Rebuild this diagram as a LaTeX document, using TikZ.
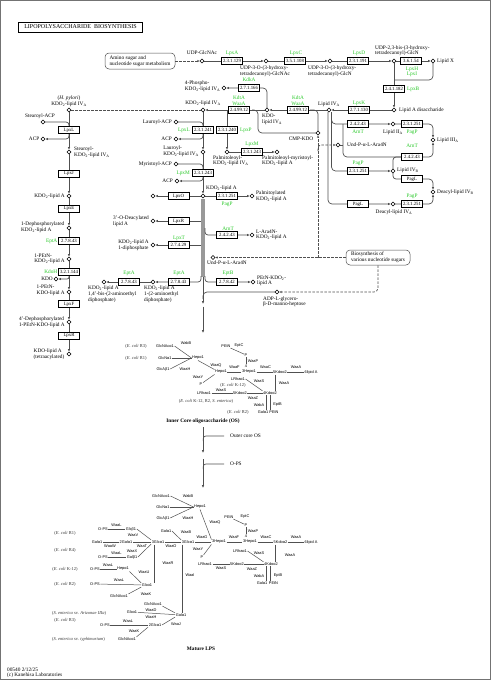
\documentclass[tikz,border=0pt]{standalone}
\usepackage{fontspec}
\setmainfont{Liberation Serif}
\newfontfamily\sansfam{Liberation Sans}
\usetikzlibrary{arrows.meta}
\definecolor{kgreen}{RGB}{40,200,40}
\definecolor{lc}{RGB}{80,80,80}
\newcommand\cpdfont{\fontsize{5.3}{5.6}\selectfont}
\newcommand\ecfont{\fontsize{4.8}{5}\selectfont}
\newcommand\sugfont{\sansfam\fontsize{3.9}{4.2}\selectfont}
\newcommand\notefont{\fontsize{4.5}{5}\selectfont}
\newcommand\kdotwo{KDO\textsubscript{2}}
\newcommand\subA{\textsubscript{A}}
\newcommand\subB{\textsubscript{B}}
\pgfdeclarelayer{bg}
\pgfsetlayers{bg,main}
\tikzset{
 ln/.style={draw=lc, line width=0.7pt},
 ar/.style={ln, -{Latex[length=2.8pt,width=2.4pt]}},
 dsh/.style={draw=lc, line width=0.7pt, dash pattern=on 2.5pt off 1.5pt},
 dshar/.style={dsh, -{Latex[open,length=2.4pt,width=2.4pt]}},
 ec/.style={draw=black, line width=0.5pt, fill=white, minimum width=21pt, minimum height=7pt, inner sep=0pt, font=\ecfont},
 cpd/.style={circle, draw=black, line width=0.55pt, fill=white, minimum size=3.8pt, inner sep=0pt},
 lbl/.style={font=\cpdfont, inner sep=0pt, align=left},
 gn/.style={font=\cpdfont, text=kgreen, inner sep=0pt, align=center},
 sug/.style={font=\sugfont, inner sep=0.5pt},
 sl/.style={draw=lc, line width=0.5pt},
 note/.style={font=\notefont, text=black!80, inner sep=0pt},
 mapbox/.style={draw=black!70, rounded corners=4pt, line width=0.5pt, align=left, font=\cpdfont, inner sep=1.5pt},
 hd/.style={font=\bfseries\fontsize{5.3}{5.5}\selectfont, inner sep=0pt}
}
\begin{document}
\begin{tikzpicture}[x=1pt,y=-1pt]
\useasboundingbox (0,0) rectangle (491,680);
\draw[black!55, line width=0.7pt] (0.8,0.8) rectangle (490.2,679.2);
\node[draw=black, line width=0.9pt, minimum width=124pt, minimum height=10pt, inner sep=0pt, font=\fontsize{6}{6}\selectfont] (title) at (80.5,27) {LIPOPOLYSACCHARIDE\hspace{3pt}BIOSYNTHESIS};

% ---------- top row
\node[mapbox, minimum width=70pt, minimum height=16pt] (amino) at (140,61) {Amino sugar and\\nucleotide sugar metabolism};
\node[cpd] (c1) at (202,61) {};
\node[lbl] (t1) at (202,53) {UDP-GlcNAc};
\node[ec] (e1) at (232,61) {2.3.1.129};
\node[gn] (g1) at (232,53) {LpxA};
\node[cpd] (c2) at (266,61) {};
\node[lbl, anchor=north west] (t2) at (240,66) {UDP-3-O-(3-hydroxy-\\tetradecanoyl)-GlcNAc};
\node[ec] (e2) at (295,61) {3.5.1.108};
\node[gn] (g2) at (296,53) {LpxC};
\node[cpd] (c3) at (330,61) {};
\node[lbl, anchor=north west] (t3) at (308,66) {UDP-3-O-(3-hydroxy-\\tetradecanoyl)-GlcN};
\node[ec] (e3) at (358,61) {2.3.1.191};
\node[gn] (g3) at (359,53) {LpxD};
\node[cpd] (c4) at (394,61) {};
\node[lbl, anchor=south west] (t4) at (375,56) {UDP-2,3-bis-(3-hydroxy-\\tetradecanoyl)-GlcN};
\node[ec] (e4) at (411,61) {3.6.1.54};
\node[gn] (g4) at (412,72) {LpxH\\LpxI};
\node[cpd] (c5) at (433,61) {};
\node[lbl, anchor=west] (t5) at (437,61) {Lipid X};
\node[ec] (e5) at (394,89) {2.4.1.182};
\node[gn, anchor=west] (g5) at (407,89) {LpxB};
\node[cpd] (c6) at (394,110) {};
\node[lbl, anchor=west] (t6) at (399,110) {Lipid A disaccharide};
\node[ec] (e6) at (359,110) {2.7.1.130};
\node[gn] (g6) at (359,103) {LpxK};
\node[cpd] (c7) at (329,110) {};
\node[lbl] (t7) at (329,104) {Lipid IV\subA};
\node[ec] (e7) at (298,110) {2.4.99.12};
\node[gn] (g7) at (298,100.5) {KdtA\\WaaA};
\node[cpd] (c8) at (267,110) {};
\node[lbl, anchor=north west] (t8) at (262,114) {KDO-\\lipid IV\subA};
\node[ec] (e8) at (249,88) {2.7.1.166};
\node[gn] (g8) at (249,80) {KdkA};
\node[cpd] (c9) at (224,88) {};
\node[lbl, anchor=east] (t9) at (220.5,86) {4-Phospho-\\\kdotwo-lipid IV\subA};
\node[ec] (e9) at (239,110) {2.4.99.12};
\node[gn] (g9) at (239,100.5) {KdtA\\WaaA};
\node[cpd] (c10) at (203,110) {};
\node[lbl] (t10) at (203,103.5) {\kdotwo-lipid IV\subA};
\node[cpd] (c11) at (318,133) {};
\node[lbl, anchor=east] (t11) at (313.5,139) {CMP-KDO};

% ---------- right region
\node[ec] (e_arnt1) at (358,124) {2.4.2.43};
\node[gn] (g_arnt1) at (358,132) {ArnT};
\node[cpd] (c13) at (393,124) {};
\node[lbl] (t13) at (393,132) {Lipid II\subA};
\node[ec] (e_pagp2) at (412,124) {2.3.1.251};
\node[gn] (g_pagp2) at (412,132) {PagP};
\node[cpd] (c14) at (433,140) {};
\node[lbl, anchor=west] (t14) at (437,140) {Lipid III\subA};
\node[cpd] (c12) at (338,145) {};
\node[lbl, anchor=west] (t12) at (347,145) {Und-P-α-L-Ara4N};
\node[ec] (e_arnt2) at (412,157) {2.4.2.43};
\node[gn] (g_arnt2) at (412,146) {ArnT};
\node[ec] (e_pagp1) at (358,171) {2.3.1.251};
\node[gn] (g_pagp1) at (358,163) {PagP};
\node[cpd] (c15) at (393,171) {};
\node[lbl, anchor=west] (t15) at (397,170.5) {Lipid IV\subB};
\node[ec] (e_pagl1) at (412,179) {PagL};
\node[cpd] (c16) at (433,192) {};
\node[lbl, anchor=west] (t16) at (437,192) {Deacyl-lipid IV\subB};
\node[ec] (e_pagl2) at (358,204) {PagL};
\node[cpd] (c17) at (393,204) {};
\node[lbl] (t17) at (394,212) {Deacyl-lipid IV\subA};
\node[ec] (e_pagp3) at (412,204) {2.3.1.251};
\node[gn] (g_pagp3) at (412,196) {PagP};

% ---------- left column
\node[cpd] (c_hp) at (69,110) {};
\node[lbl] (t_hp) at (69,98) {(\textit{H. pylori})};
\node[lbl] (t_hp2) at (69,104) {\kdotwo-lipid IV\subA};
\node[cpd] (c_st) at (43,122) {};
\node[lbl] (t_st) at (40,116) {Stearoyl-ACP};
\node[ec] (b_lpxl) at (69,130) {LpxL};
\node[cpd] (c_acp1) at (43,139) {};
\node[lbl, anchor=east] (t_acp1) at (39.5,139) {ACP};
\node[cpd] (c_st2) at (69,152) {};
\node[lbl, anchor=west] (t_st2) at (74,152) {Stearoyl-\\\kdotwo-lipid IV\subA};
\node[ec] (b_lpxj) at (69,173.5) {LpxJ};
\node[cpd] (c_k2a) at (69,196) {};
\node[lbl, anchor=east] (t_k2a) at (65,196) {\kdotwo-lipid A};
\node[ec] (b_lpxe) at (69,208.5) {LpxE};
\node[cpd] (c_deph) at (69,228) {};
\node[lbl, anchor=east] (t_deph) at (64.5,227.5) {1-Dephosphorylated\\\kdotwo-lipid A};
\node[gn, anchor=east] (g_epta1) at (57.5,241) {EptA};
\node[ec] (e_epta1) at (69,241) {2.7.8.43};
\node[cpd] (c_pe1) at (69,259) {};
\node[lbl, anchor=east] (t_pe1) at (65,259) {1-PEtN-\\\kdotwo-lipid A};
\node[gn, anchor=east] (g_kdoh) at (57.5,272) {KdoH};
\node[ec] (e_kdoh) at (69,272) {3.2.1.144};
\node[cpd] (c_kdo) at (56,279) {};
\node[lbl, anchor=east] (t_kdo) at (53,279) {KDO};
\node[cpd] (c_pe2) at (69,292) {};
\node[lbl, anchor=east] (t_pe2) at (65,290.5) {1-PEtN-\\KDO-lipid A};
\node[ec] (b_lpxf) at (69,304) {LpxF};
\node[cpd] (c_4d) at (69,322) {};
\node[lbl, anchor=east] (t_4d) at (65,322) {4'-Dephosphorylated\\1-PEtN-KDO-lipid A};
\node[ec] (b_lpxr1) at (69,335.5) {LpxR};
\node[cpd] (c_kla) at (69,354) {};
\node[lbl, anchor=east] (t_kla) at (64.5,354) {KDO-lipid A\\(tetraacylated)};

% ---------- middle column
\node[cpd] (c_la) at (176,122) {};
\node[lbl, anchor=east] (t_la) at (172,122) {Lauroyl-ACP};
\node[gn, anchor=east] (g_lpxl) at (190,130) {LpxL};
\node[ec] (e_lpxl) at (203,130) {2.3.1.241};
\node[cpd] (c_acp2) at (176,139) {};
\node[lbl, anchor=east] (t_acp2) at (172,139) {ACP};
\node[cpd] (c_lau) at (203,152) {};
\node[lbl, anchor=east] (t_lau) at (199,151.5) {Lauroyl-\\\kdotwo-lipid IV\subA};
\node[ec] (e_lpxp) at (227,130) {2.3.1.240};
\node[gn, anchor=west] (g_lpxp) at (240,130) {LpxP};
\node[cpd] (c_palm) at (227,152) {};
\node[lbl, anchor=north west] (t_palm) at (213,155.5) {Palmitoleoyl-\\\kdotwo-lipid IV\subA};
\node[gn] (g_lpxm1) at (252,144) {LpxM};
\node[ec] (e_lpxm1) at (252,152) {2.3.1.243};
\node[cpd] (c_pm) at (277,152) {};
\node[lbl, anchor=north west] (t_pm) at (262,155.5) {Palmitoleoyl-myristoyl-\\\kdotwo-lipid A};
\node[cpd] (c_my) at (176,164) {};
\node[lbl, anchor=east] (t_my) at (172,164) {Myristoyl-ACP};
\node[gn, anchor=east] (g_lpxm2) at (190,173) {LpxM};
\node[ec] (e_lpxm2) at (203,172.5) {2.3.1.243};
\node[cpd] (c_acp3) at (177,181) {};
\node[lbl, anchor=east] (t_acp3) at (173,181) {ACP};
\node[cpd] (c_k2a2) at (203,196) {};
\node[lbl, anchor=west] (t_k2a2) at (206,188.5) {\kdotwo-lipid A};
\node[ec] (e_pagp4) at (227,196) {2.3.1.251};
\node[gn] (g_pagp4) at (227,204) {PagP};
\node[cpd] (c_pal) at (252,196) {};
\node[lbl, anchor=west] (t_pal) at (256,196) {Palmitoylated\\\kdotwo-lipid A};
\node[ec] (b_lpxo) at (178.5,196) {LpxO};
\node[cpd] (c_lpxo) at (153,196) {};
\node[ec] (b_lpxr2) at (178.5,221) {LpxR};
\node[cpd] (c_3o) at (153,221) {};
\node[lbl, anchor=east] (t_3o) at (149,221.5) {3'-O-Deacylated\\lipid A};
\node[gn] (g_lpxt) at (179,238) {LpxT};
\node[ec] (e_lpxt) at (178.5,245) {2.7.4.29};
\node[cpd] (c_dp) at (153,245) {};
\node[lbl, anchor=east] (t_dp) at (149,245.5) {\kdotwo-lipid A\\1-diphosphate};
\node[gn] (g_arnt3) at (228,228.5) {ArnT};
\node[ec] (e_arnt3) at (227,235) {2.4.2.43};
\node[cpd] (c_ara) at (252,235) {};
\node[lbl, anchor=west] (t_ara) at (256,235) {L-Ara4N-\\\kdotwo-lipid A};
\node[gn] (g_epta2) at (179,273.5) {EptA};
\node[ec] (e_epta2) at (178.5,282) {2.7.8.43};
\node[cpd] (c_1pea) at (153,282) {};
\node[lbl, anchor=north west] (t_1pea) at (144,286) {\kdotwo-lipid A\\1-(2-aminoethyl\\diphosphate)};
\node[gn] (g_epta3) at (129,273.5) {EptA};
\node[ec] (e_epta3) at (129,282) {2.7.8.43};
\node[cpd] (c_bis) at (104,282) {};
\node[lbl, anchor=north west] (t_bis) at (88,286) {\kdotwo-lipid A\\1,4'-bis-(2-aminoethyl\\diphosphate)};
\node[gn] (g_eptb) at (228,273.5) {EptB};
\node[ec] (e_eptb) at (227,282) {2.7.8.42};
\node[cpd] (c_pk) at (253,282) {};
\node[lbl, anchor=west] (t_pk) at (257,281) {PEtN-\kdotwo-\\lipid A};
\node[cpd] (c_undp2) at (213,257.5) {};
\node[lbl, anchor=north west] (t_undp2) at (207,261) {Und-P-α-L-Ara4N};
\node[mapbox, minimum width=64pt, minimum height=15pt] (biosyn) at (378,257.5) {Biosynthesis of\\various nucleotide sugars};
\node[cpd] (c_adp) at (277,292) {};
\node[lbl, anchor=north west] (t_adp) at (263,296.5) {ADP-L-glycero-\\β-D-manno-heptose};

% ---------- inner core
\node[note] (n1) at (136,346) {(\textit{E. coli} R3)};
\node[sug] (s1) at (165,346) {GlcNAcα1};
\node[sug] (w1) at (186,343.5) {WabB};
\node[note] (n2) at (136,358) {(\textit{E. coli} R1)};
\node[sug] (s2) at (165,358) {GlcNα1};
\node[sug] (s3) at (163,369) {GlcAβ1};
\node[sug] (w2) at (185,369.5) {WaaH};
\node[sug] (s4) at (198,358) {Hepα1};
\node[sug] (w3) at (216,365.5) {WaaQ};
\node[sug] (s5) at (221,372) {Hepα1};
\node[sug] (w4) at (234.5,367.5) {WaaF};
\node[sug] (s6) at (249,372) {3Hepα1};
\node[sug] (w5) at (265.5,367.5) {WaaC};
\node[sug] (s7) at (280,372) {5Kdoα2};
\node[sug] (w6) at (296,367.5) {WaaA};
\node[sug] (s8) at (311,372) {6lipid A};
\node[sug] (w7) at (198,377.5) {WaaY};
\node[sug] (s9) at (201,384) {P};
\node[sug] (s10) at (226,346) {PEtN};
\node[sug] (w8) at (239,345.5) {EptC};
\node[sug] (s11) at (246,355) {P};
\node[sug] (w9) at (253,361.5) {WaaP};
\node[sug] (m3) at (246,366) {4};
\node[sug] (s12) at (238,379) {LRhaα1};
\node[sug] (w10) at (259,381) {WaaS};
\node[note] (n3) at (233,385) {(\textit{E. coli} K-12)};
\node[sug] (s13) at (204,393) {LRhaα1};
\node[sug] (w11) at (221,390) {WaaS};
\node[sug] (s14) at (240,393) {5Kdoα2};
\node[sug] (w12) at (253,398.5) {WaaZ};
\node[sug] (s15) at (270,393) {4Kdoα2};
\node[sug] (w13) at (284,383) {WaaA};
\node[note] (n4) at (206,401) {(\textit{E. coli} K-12, R2, \textit{S. enterica})};
\node[sug] (w14) at (259,405) {WabA};
\node[sug] (w15) at (277.5,405) {EptB};
\node[sug] (s16) at (263,412) {Galα1};
\node[sug] (s17) at (274,412) {PEtN};
\node[note] (n5) at (238,412) {(\textit{E. coli} R2)};
\node[hd] (h1) at (203,421) {Inner Core oligosaccharide (OS)};
\node[lbl, anchor=west] (t_oc) at (230,436) {Outer core OS};
\node[lbl, anchor=west] (t_ops) at (230,464) {O-PS};

% ---------- mature LPS
\node[sug] (u1) at (161,496) {GlcNAcα1};
\node[sug] (v1) at (188,496.5) {WabB};
\node[sug] (u2) at (163,507) {GlcNα1};
\node[sug] (u3) at (163,518) {GlcAβ1};
\node[sug] (v2) at (188,518.5) {WaaH};
\node[sug] (u4) at (200,507) {Hepα1};
\node[sug] (v3) at (215,523) {WaaQ};
\node[sug] (u10) at (229,517) {PEtN};
\node[sug] (v4) at (245,516.5) {EptC};
\node[sug] (u11) at (246,525) {P};
\node[sug] (v5) at (253,531.5) {WaaP};
\node[sug] (m4) at (246,536.5) {4};
\node[sug] (u12) at (97,542) {Galα1};
\node[sug] (v6) at (110,546.5) {WaaW};
\node[sug] (u13) at (126,542) {2Galα1};
\node[sug] (v7) at (142,546.5) {WaaT};
\node[sug] (u14) at (158,542) {3Glcα1};
\node[sug] (v8) at (171,546.5) {WaaO};
\node[sug] (u15) at (188,542) {3Glcα1};
\node[sug] (v9) at (202,537.5) {WaaG};
\node[sug] (u16) at (219,542) {3Hepα1};
\node[sug] (v10) at (234,537.5) {WaaF};
\node[sug] (u17) at (250,542) {3Hepα1};
\node[sug] (v11) at (266,537.5) {WaaC};
\node[sug] (u18) at (280.5,542) {5Kdoα2};
\node[sug] (v12) at (296,537.5) {WaaA};
\node[sug] (u19) at (311,542) {6lipid A};
\node[note] (n6) at (65,533) {(\textit{E. coli} R1)};
\node[sug] (u20) at (103,529) {O-PS};
\node[sug] (v13) at (116.5,525) {WaaL};
\node[sug] (u21) at (131,529) {Glcβ1};
\node[sug] (v14) at (133,535.5) {WaaV};
\node[note] (n7) at (65,550) {(\textit{E. coli} R4)};
\node[sug] (u22) at (103,557) {O-PS};
\node[sug] (v15) at (116.5,553.5) {WaaL};
\node[sug] (u23) at (132,557) {Galβ1};
\node[sug] (v16) at (132,551) {WaaX};
\node[sug] (u24) at (166,531) {Galα1};
\node[sug] (v17) at (186,532.5) {WaaB};
\node[sug] (v18) at (198,549) {WaaY};
\node[sug] (u25) at (202,557) {P};
\node[sug] (u26) at (240,551) {LRhaα1};
\node[sug] (v19) at (259,553) {WaaS};
\node[sug] (u27) at (205,564) {LRhaα1};
\node[sug] (v20) at (221,568.5) {WaaS};
\node[sug] (u28) at (237,564) {5Kdoα2};
\node[sug] (v21) at (252,569) {WaaZ};
\node[sug] (u29) at (271,564) {4Kdoα2};
\node[sug] (v22) at (290,555) {WaaA};
\node[sug] (v23) at (259,576) {WabA};
\node[sug] (v24) at (278,576) {EptB};
\node[sug] (u30) at (262,583) {Galα1};
\node[sug] (u31) at (273.5,583) {PEtN};
\node[sug] (v25) at (168,563) {WaaR};
\node[sug] (u32) at (147,585) {Glcα1};
\node[sug] (v26) at (190,575) {WaaI};
\node[note] (n8) at (65,569) {(\textit{E. coli} K-12)};
\node[sug] (u33) at (95,569) {O-PS};
\node[sug] (v27) at (108,565.5) {WaaL};
\node[sug] (u34) at (123,569) {Hepα1};
\node[sug] (v28) at (144,572.5) {WaaU};
\node[note] (n9) at (65,584) {(\textit{E. coli} R2)};
\node[sug] (u35) at (95,584) {O-PS};
\node[sug] (v29) at (119,580.5) {WaaL};
\node[sug] (u36) at (119,596) {GlcNAcα1};
\node[sug] (v30) at (146,594) {WaaK};
\node[note, anchor=west] (n10) at (52,613) {(\textit{S. enterica} sv. \textit{Arizonae IIIa})};
\node[sug] (u37) at (153,604) {GlcNAcα1};
\node[sug] (u38) at (132,612) {Glcα1};
\node[sug] (v31) at (151,610.2) {WaaD};
\node[sug] (v32) at (151,616.8) {WaaH};
\node[sug] (u39) at (181,615) {Galα1};
\node[note] (n11) at (65,620) {(\textit{E. coli} R3)};
\node[sug] (u40) at (105,625) {O-PS};
\node[sug] (v33) at (128,621) {WaaL};
\node[sug] (u41) at (155,625) {2Glcα1};
\node[sug] (v34) at (176,624.5) {WaaJ};
\node[sug] (v35) at (134,631.5) {WaaK};
\node[note, anchor=west] (n12) at (52,639) {(\textit{S. enterica} sv. \textit{typhimurium})};
\node[sug] (u42) at (127,639) {GlcNAcα1};
\node[hd] (h2) at (201,649) {Mature LPS};
\node[lbl, anchor=west] (f1) at (7,670) {00540 2/12/25};
\node[lbl, anchor=west] (f2) at (7,675.5) {(c) Kanehisa Laboratories};

% ================= connectors
\begin{pgfonlayer}{bg}
\draw[dshar] (amino) -- (c1);
\draw[ar] (c1) -- (c2);
\draw[ar] (c2) -- (c3);
\draw[ar] (c3) -- (c4);
\draw[ar] (c4) -- (c5);
\draw[ar] (c4) -- (c6);
\draw[ln, rounded corners=4] (c5) |- (394,80);
\draw[ar] (c6) -- (c7);
\draw[ar] (c7) -- (c8);
\draw[ar] (c8) -- (c10);
\draw[ar, rounded corners=4] (c8) |- (c9);
\draw[ln, rounded corners=4] (c11) |- (310,110);
\draw[ln, rounded corners=4] (252,110) -| (258,133) -- (c11);
% right region
\draw[ar, rounded corners=4] (331.5,112) |- (c13);
\draw[ar, rounded corners=4] (c13) -| (c14);
\draw[ln, rounded corners=4] (343,124) |- (e_arnt2.west);
\draw[ln] (c12) -- (343,145);
\draw[ln, rounded corners=3] (c15) |- (e_arnt2.west);
\draw[ar, rounded corners=4] (e_arnt2.east) -| (c14);
\draw[ar, rounded corners=4] (331.5,112) |- (c15);
\draw[ln, rounded corners=3] (c15) |- (e_pagl1.west);
\draw[ar, rounded corners=4] (e_pagl1.east) -| (c16);
\draw[ar, rounded corners=4] (328,112) |- (c17);
\draw[ar, rounded corners=4] (c17) -| (c16);
% dashed links
\draw[dsh] (c_hp) -- (c10);
\draw[dshar] (318,257.5) -- (c11);
\draw[dshar, rounded corners=3] (318,151) |- (c12);
\draw[dshar] (biosyn.west) -- (c_undp2);
\draw[dshar, rounded corners=4] (biosyn.south) |- (c_adp);
% left column
\draw[ar] (c_hp) -- (c_st2);
\draw[ln, rounded corners=3] (c_st) -| (69,127);
\draw[ar, rounded corners=3] (69,133.5) |- (c_acp1);
\draw[ar] (c_st2) -- (c_k2a);
\draw[ar] (c_k2a) -- (c_deph);
\draw[ar] (c_deph) -- (c_pe1);
\draw[ar] (c_pe1) -- (c_pe2);
\draw[ar, rounded corners=2] (69,275.5) |- (c_kdo);
\draw[ar] (c_pe2) -- (c_4d);
\draw[ar] (c_4d) -- (c_kla);
% middle column
\draw[ar] (c10) -- (c_lau);
\draw[ln, rounded corners=3] (c_la) -| (203,128);
\draw[ar, rounded corners=3] (203,133) |- (c_acp2);
\draw[ar] (227,110) -- (c_palm);
\draw[ar] (c_palm) -- (c_pm);
\draw[ar] (c_lau) -- (c_k2a2);
\draw[ln, rounded corners=3] (c_my) -| (203,169);
\draw[ar, rounded corners=3] (203,175.5) |- (c_acp3);
\draw[ar] (c_k2a2) -- (c_pal);
\draw[ar] (c_k2a2) -- (c_lpxo);
\draw[line width=4.5pt, draw=black!40] (203,199) -- (203,277);
\draw[ar] (200.5,221) -- (c_3o);
\draw[ar] (200.5,245) -- (c_dp);
\draw[ar, rounded corners=3] (201,276) |- (c_1pea);
\draw[ar] (c_1pea) -- (c_bis);
\draw[ar, rounded corners=3] (205,228) |- (c_ara);
\draw[ar, rounded corners=3] (205,276) |- (c_pk);
\draw[ar] (203,277) -- (203,304);
\draw[ar] (203,306.5) -- (203,333);
\draw[ln, rounded corners=4] (c_adp) -| (203,299);
\draw[ar] (203,427) -- (203,453);
\draw[ln, rounded corners=2.5] (203.3,441) |- (224,436);
\draw[ar] (203,459) -- (203,488);
\draw[ln, rounded corners=2.5] (203.3,469) |- (224,464);
% inner core structure
\draw[sl] (s1.east) -- (s4.west);
\draw[sl] (s2) -- (s4);
\draw[sl] (s3.east) -- (s4.west);
\draw[sl] (s4.south) -- (s5.north west);
\draw[sl] (s5) -- (s6);
\draw[sl] (s6) -- (s7);
\draw[sl] (s7) -- (s8);
\draw[sl] (s5.south west) -- (s9);
\draw[sl] (s10) -- (s11);
\draw[sl] (s11) -- (m3);
\draw[sl] (s12.east) -- (s15.north west);
\draw[sl] (s13) -- (s14);
\draw[sl] (s14) -- (s15);
\draw[sl] (275,374.5) -- (275,391);
\draw[sl] (266.5,395) -- (266.5,410);
\draw[sl] (270,395) -- (270,410);
% mature LPS structure
\draw[sl] (u1.east) -- (u4.west);
\draw[sl] (u2) -- (u4);
\draw[sl] (u3.east) -- (u4.west);
\draw[sl] (u4.south) -- (u16.north west);
\draw[sl] (u10) -- (u11);
\draw[sl] (u11) -- (m4);
\draw[sl] (u12) -- (u13);
\draw[sl] (u13) -- (u14);
\draw[sl] (u14) -- (u15);
\draw[sl] (u15) -- (u16);
\draw[sl] (u16) -- (u17);
\draw[sl] (u17) -- (u18);
\draw[sl] (u18) -- (u19);
\draw[sl] (u20) -- (u21);
\draw[sl] (u21.east) -- (u14.north west);
\draw[sl] (u22) -- (u23);
\draw[sl] (u23.east) -- (u14.south west);
\draw[sl] (u24.east) -- (u15.north west);
\draw[sl] (u16.south west) -- (u25);
\draw[sl] (u26.east) -- (u29.north west);
\draw[sl] (u27) -- (u28);
\draw[sl] (u28) -- (u29);
\draw[sl] (275,544.5) -- (275,561.5);
\draw[sl] (266.5,566) -- (266.5,581);
\draw[sl] (270,566) -- (270,581);
\draw[sl] (154.5,544.5) -- (154.5,582.5);
\draw[sl] (182.5,544.5) -- (182.5,612.5);
\draw[sl] (u33) -- (u34);
\draw[sl] (u34.south east) -- (u32.north west);
\draw[sl] (u35) -- (u32);
\draw[sl] (u36.north east) -- (u32.south west);
\draw[sl] (u37.south east) -- (u39.north west);
\draw[sl] (u38) -- (u39);
\draw[sl] (u40) -- (u41);
\draw[sl] (u41.east) -- (u39.south west);
\draw[sl] (u42.north east) -- (u41.south west);
\end{pgfonlayer}
\end{tikzpicture}
\end{document}
